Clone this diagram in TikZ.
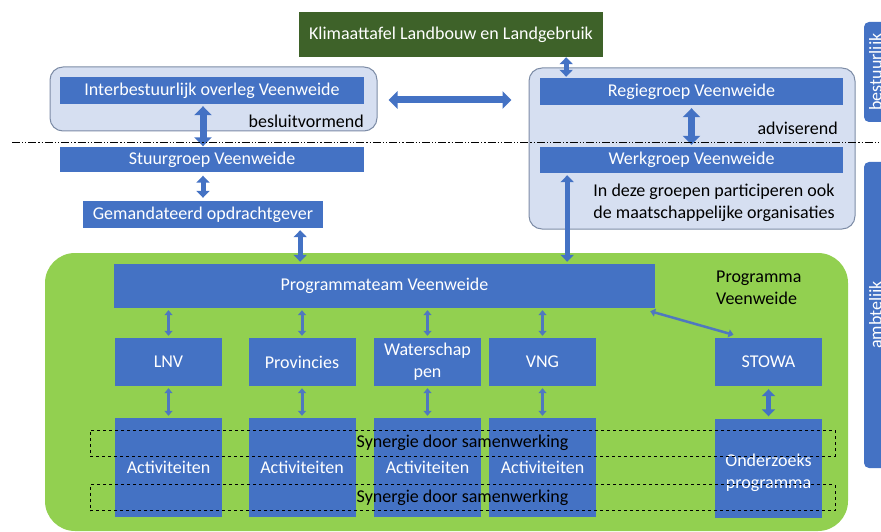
\documentclass[tikz,border=0pt]{standalone}
\usepackage{fontspec}
\setmainfont{Carlito}
\usetikzlibrary{arrows.meta}

\definecolor{ofblue}{HTML}{4472C4}
\definecolor{klgreen}{HTML}{3E6229}
\definecolor{lgreen}{HTML}{92D050}
\definecolor{panelfill}{HTML}{D6DFF1}
\definecolor{panelline}{HTML}{7D8CA6}
\definecolor{thinblue}{HTML}{4F78BF}

\begin{document}
\begin{tikzpicture}[x=1pt,y=-1pt,
  every node/.style={font=\fontsize{18}{22}\selectfont, inner sep=0pt},
  bluebox/.style={fill=ofblue, text=white, align=center},
  panel/.style={fill=panelfill, draw=panelline, line width=1pt, rounded corners=13pt},
  bigarrow/.style={ofblue, line width=7pt, {Triangle[width=17pt,length=9pt]}-{Triangle[width=17pt,length=9pt]}},
  midarrow/.style={ofblue, line width=5pt, {Triangle[width=13pt,length=7pt]}-{Triangle[width=13pt,length=7pt]}},
  thinarrow/.style={thinblue, line width=3pt, {Triangle[width=8pt,length=5pt]}-{Triangle[width=8pt,length=5pt]}},
  synbox/.style={draw, dashed, line width=0.8pt, minimum width=745pt, minimum height=26pt}]
\useasboundingbox (0,0) rectangle (881,532);
\clip (0,0) rectangle (881,532);

% panels
\node[panel, minimum width=327pt, minimum height=64pt] (left) at (213.5,99) {};
\node[panel, minimum width=326pt, minimum height=161pt] (right) at (692,148.5) {};
\node[fill=lgreen, rounded corners=30pt, minimum width=803pt, minimum height=278pt] (prgm) at (446.5,392) {};
\node[bluebox, rounded corners=5pt, rotate=90, minimum width=100pt, minimum height=26pt] (bstr) at (877,72) {bestuurlijk};
\node[bluebox, rounded corners=5pt, rotate=90, minimum width=306pt, minimum height=26pt] (ambt) at (877,315) {ambtelijk};

% bestuurlijke laag
\node[bluebox, fill=klgreen, minimum width=304pt, minimum height=45pt] (klima) at (451,34.5) {Klimaattafel Landbouw en Landgebruik};
\node[bluebox, minimum width=304pt, minimum height=27pt] (ibo) at (212,90.5) {Interbestuurlijk overleg Veenweide};
\node[anchor=east] at (364,121) {besluitvormend};
\node[bluebox, minimum width=304pt, minimum height=25pt] (stuur) at (212,160) {Stuurgroep Veenweide};
\node[bluebox, minimum width=240pt, minimum height=27pt] (gemand) at (203,214.5) {Gemandateerd opdrachtgever};
\node[bluebox, minimum width=303pt, minimum height=27pt] (regie) at (691.5,91.5) {Regiegroep Veenweide};
\node[anchor=east] at (838,128) {adviserend};
\node[bluebox, minimum width=303pt, minimum height=26pt] (werk) at (691.5,160) {Werkgroep Veenweide};
\node[align=center] at (714,203) {In deze groepen participeren ook\\de maatschappelijke organisaties};

% programma
\node[bluebox, minimum width=541pt, minimum height=44pt] (prog) at (384.5,286) {Programmateam Veenweide};
\node[anchor=north west, align=left] at (716,271) {Programma\\Veenweide};
\foreach \b/\x/\t in {lnv/168.5/LNV, prov/302/Provincies, water/427.5/{Waterschap\\pen}, vng/542.5/VNG, stowa/768.5/STOWA}
  \node[bluebox, minimum width=107pt, minimum height=48pt] (\b) at (\x,362) {\t};
\foreach \b/\x in {lnv/168.5, prov/302, water/427.5, vng/542.5}
  \node[bluebox, minimum width=107pt, minimum height=99pt] (\b-act) at (\x,467.5) {Activiteiten};
\node[bluebox, minimum width=107pt, minimum height=99pt] (stowa-act) at (768.5,468) {};
\node[text=white, align=center] (ondz) at ([yshift=-5pt]stowa-act) {Onderzoeks\\programma};

% verbindingen
\draw[bigarrow, shorten <=2pt, shorten >=1pt] (ibo.south -| gemand) -- (stuur.north -| gemand);
\draw[midarrow, shorten <=3pt, shorten >=3pt] (stuur.south -| gemand) -- (gemand.north);
\draw[midarrow, shorten <=2pt, shorten >=2pt] ([xshift=-23pt]gemand.south east) -- ([xshift=-23pt]gemand.south east |- prog.north);
\draw[bigarrow, shorten <=11pt, shorten >=17pt] ([yshift=-1pt]left.east) -- ([yshift=-1pt]left.east -| right.west);
\draw[midarrow, shorten >=1pt] ([xshift=-37pt]klima.south east) -- ([xshift=-37pt]klima.south east |- regie.north);
\draw[bigarrow, shorten <=3pt, shorten >=2pt] (regie.south) -- (werk.north);
\draw[midarrow, shorten <=2pt, shorten >=2pt] ([xshift=-88pt]prog.north east) -- ([xshift=-88pt]prog.north east |- werk.south);
\foreach \b in {lnv,prov,water,vng} {
  \draw[thinarrow, shorten <=2pt, shorten >=2pt] (prog.south -| \b) -- (\b.north);
  \draw[thinarrow, shorten <=2pt, shorten >=2pt] (\b.south) -- (\b-act.north);
}
\draw[thinarrow, line width=2.5pt] ([xshift=-5pt,yshift=-3pt]prog.south east) -- ([xshift=-35pt,yshift=3pt]stowa.north);
\draw[midarrow, shorten <=3pt, shorten >=2pt] (stowa.south) -- (stowa-act.north);

% scheidslijn bestuurlijk / ambtelijk
\draw[line width=0.7pt, dash pattern=on 8pt off 2pt on 1.2pt off 2pt on 1.2pt off 2pt] (12,142) -- (881,142);

% synergie
\node[synbox] (syn1) at (462.5,443) {Synergie door samenwerking};
\node[synbox] (syn2) at (462.5,497.5) {Synergie door samenwerking};
\end{tikzpicture}
\end{document}
